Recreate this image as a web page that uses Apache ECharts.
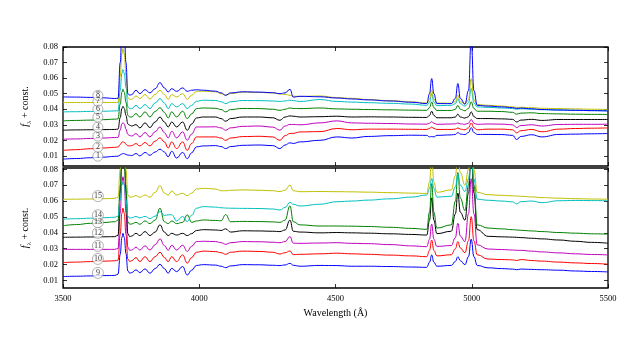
<!DOCTYPE html>
<html>
<head>
<meta charset="utf-8">
<script src="https://cdn.jsdelivr.net/npm/echarts@6/dist/echarts.min.js"></script>
<style>
  html, body { margin: 0; padding: 0; background: #fff; }
  #chart { width: 640px; height: 361px; }
</style>
</head>
<body>
<div id="chart"></div>
<script>
// wavelength grid (Angstrom)
var wave = [3500, 3550, 3600, 3650, 3690, 3702, 3710, 3716, 3720, 3725, 3731, 3738, 3745, 3752, 3768, 3782,
  3801, 3819, 3838, 3856, 3872, 3886, 3899, 3917, 3939, 3956, 3972, 3990, 4015, 4060, 4080, 4097, 4115, 4160,
  4220, 4270, 4296, 4315, 4333, 4345, 4370, 4443, 4505, 4560, 4620, 4700, 4780, 4835, 4845, 4853, 4861, 4872,
  4925, 4940, 4949, 4958, 4975, 4988, 4998, 5008, 5020, 5060, 5110, 5150, 5165, 5180, 5220, 5257, 5320, 5380,
  5440, 5500];

// top panel spectra 1-8
var s1 = [0.0079, 0.0083, 0.0088, 0.0092, 0.0097, 0.0098, 0.0106, 0.0113, 0.0115, 0.0114, 0.0109, 0.0105, 0.0104, 0.0102, 0.0115, 0.0100,
  0.0122, 0.0104, 0.0125, 0.0143, 0.0125, 0.0094, 0.0130, 0.0086, 0.0122, 0.0082, 0.0120, 0.0158, 0.0164, 0.0166, 0.0160, 0.0147, 0.0160, 0.0168,
  0.0170, 0.0166, 0.0147, 0.0170, 0.0184, 0.0180, 0.0190, 0.0200, 0.0222, 0.0215, 0.0225, 0.0230, 0.0233, 0.0232, 0.0222, 0.0225, 0.0222, 0.0232,
  0.0235, 0.0238, 0.0250, 0.0240, 0.0237, 0.0250, 0.0282, 0.0250, 0.0238, 0.0238, 0.0237, 0.0232, 0.0205, 0.0225, 0.0236, 0.0222, 0.0238, 0.0240,
  0.0242, 0.0244];
var s2 = [0.0135, 0.0140, 0.0146, 0.0151, 0.0155, 0.0157, 0.0173, 0.0187, 0.0190, 0.0187, 0.0175, 0.0165, 0.0164, 0.0166, 0.0179, 0.0164,
  0.0186, 0.0164, 0.0195, 0.0216, 0.0190, 0.0151, 0.0190, 0.0147, 0.0190, 0.0136, 0.0180, 0.0222, 0.0222, 0.0222, 0.0215, 0.0200, 0.0215, 0.0224,
  0.0226, 0.0222, 0.0200, 0.0230, 0.0244, 0.0245, 0.0254, 0.0256, 0.0276, 0.0268, 0.0272, 0.0272, 0.0271, 0.0270, 0.0276, 0.0285, 0.0276, 0.0270,
  0.0270, 0.0272, 0.0280, 0.0272, 0.0268, 0.0280, 0.0312, 0.0280, 0.0268, 0.0272, 0.0272, 0.0268, 0.0248, 0.0262, 0.0270, 0.0255, 0.0272, 0.0276,
  0.0278, 0.0280];
var s3 = [0.0207, 0.0209, 0.0212, 0.0215, 0.0218, 0.0219, 0.0266, 0.0305, 0.0314, 0.0305, 0.0272, 0.0238, 0.0230, 0.0228, 0.0243, 0.0222,
  0.0250, 0.0222, 0.0255, 0.0286, 0.0250, 0.0216, 0.0258, 0.0216, 0.0254, 0.0201, 0.0240, 0.0286, 0.0286, 0.0287, 0.0280, 0.0265, 0.0280, 0.0290,
  0.0292, 0.0285, 0.0265, 0.0292, 0.0302, 0.0302, 0.0300, 0.0312, 0.0325, 0.0312, 0.0310, 0.0308, 0.0305, 0.0304, 0.0310, 0.0320, 0.0310, 0.0303,
  0.0305, 0.0306, 0.0312, 0.0306, 0.0303, 0.0310, 0.0334, 0.0310, 0.0303, 0.0305, 0.0304, 0.0300, 0.0282, 0.0295, 0.0300, 0.0292, 0.0302, 0.0303,
  0.0303, 0.0304];
var s4 = [0.0265, 0.0267, 0.0268, 0.0269, 0.0270, 0.0272, 0.0346, 0.0404, 0.0419, 0.0404, 0.0360, 0.0305, 0.0297, 0.0292, 0.0301, 0.0280,
  0.0312, 0.0282, 0.0318, 0.0350, 0.0318, 0.0286, 0.0318, 0.0286, 0.0318, 0.0265, 0.0305, 0.0344, 0.0350, 0.0350, 0.0340, 0.0323, 0.0340, 0.0350,
  0.0350, 0.0345, 0.0329, 0.0350, 0.0357, 0.0355, 0.0350, 0.0352, 0.0355, 0.0350, 0.0351, 0.0350, 0.0348, 0.0347, 0.0360, 0.0387, 0.0360, 0.0345,
  0.0345, 0.0350, 0.0368, 0.0350, 0.0343, 0.0352, 0.0383, 0.0352, 0.0340, 0.0340, 0.0338, 0.0335, 0.0318, 0.0330, 0.0335, 0.0328, 0.0334, 0.0334,
  0.0334, 0.0334];
var s5 = [0.0325, 0.0328, 0.0330, 0.0333, 0.0336, 0.0338, 0.0433, 0.0509, 0.0528, 0.0509, 0.0445, 0.0360, 0.0350, 0.0350, 0.0372, 0.0350,
  0.0383, 0.0350, 0.0385, 0.0410, 0.0380, 0.0344, 0.0383, 0.0350, 0.0387, 0.0340, 0.0370, 0.0404, 0.0408, 0.0406, 0.0398, 0.0383, 0.0398, 0.0405,
  0.0404, 0.0400, 0.0393, 0.0400, 0.0408, 0.0405, 0.0404, 0.0408, 0.0402, 0.0400, 0.0398, 0.0396, 0.0394, 0.0393, 0.0410, 0.0447, 0.0410, 0.0392,
  0.0392, 0.0400, 0.0425, 0.0400, 0.0390, 0.0405, 0.0447, 0.0405, 0.0387, 0.0387, 0.0385, 0.0380, 0.0368, 0.0375, 0.0377, 0.0372, 0.0370, 0.0368,
  0.0367, 0.0366];
var s6 = [0.0383, 0.0384, 0.0386, 0.0387, 0.0389, 0.0390, 0.0522, 0.0630, 0.0655, 0.0630, 0.0540, 0.0415, 0.0404, 0.0404, 0.0425, 0.0404,
  0.0430, 0.0404, 0.0440, 0.0468, 0.0440, 0.0404, 0.0436, 0.0415, 0.0436, 0.0404, 0.0425, 0.0451, 0.0458, 0.0456, 0.0448, 0.0436, 0.0448, 0.0456,
  0.0455, 0.0453, 0.0450, 0.0453, 0.0458, 0.0455, 0.0450, 0.0462, 0.0450, 0.0446, 0.0442, 0.0438, 0.0433, 0.0425, 0.0445, 0.0500, 0.0445, 0.0423,
  0.0425, 0.0435, 0.0468, 0.0435, 0.0420, 0.0440, 0.0533, 0.0440, 0.0415, 0.0412, 0.0408, 0.0405, 0.0400, 0.0403, 0.0400, 0.0397, 0.0395, 0.0393,
  0.0391, 0.0390];
var s7 = [0.0443, 0.0443, 0.0443, 0.0443, 0.0443, 0.0444, 0.0612, 0.0755, 0.0790, 0.0755, 0.0620, 0.0475, 0.0462, 0.0464, 0.0485, 0.0468,
  0.0494, 0.0466, 0.0495, 0.0522, 0.0495, 0.0464, 0.0494, 0.0479, 0.0500, 0.0464, 0.0490, 0.0515, 0.0516, 0.0512, 0.0500, 0.0490, 0.0500, 0.0510,
  0.0508, 0.0505, 0.0498, 0.0495, 0.0490, 0.0484, 0.0482, 0.0485, 0.0475, 0.0470, 0.0462, 0.0455, 0.0447, 0.0440, 0.0465, 0.0522, 0.0465, 0.0440,
  0.0438, 0.0448, 0.0490, 0.0448, 0.0435, 0.0460, 0.0597, 0.0460, 0.0430, 0.0425, 0.0420, 0.0415, 0.0412, 0.0412, 0.0410, 0.0406, 0.0404, 0.0402,
  0.0400, 0.0398];
var s8 = [0.0479, 0.0478, 0.0476, 0.0473, 0.0469, 0.0470, 0.0700, 0.0900, 0.0950, 0.0900, 0.0700, 0.0500, 0.0490, 0.0494, 0.0522, 0.0500,
  0.0526, 0.0505, 0.0532, 0.0571, 0.0537, 0.0511, 0.0532, 0.0515, 0.0537, 0.0515, 0.0522, 0.0525, 0.0522, 0.0516, 0.0505, 0.0490, 0.0505, 0.0512,
  0.0510, 0.0506, 0.0500, 0.0505, 0.0528, 0.0478, 0.0483, 0.0480, 0.0472, 0.0466, 0.0460, 0.0453, 0.0445, 0.0436, 0.0500, 0.0597, 0.0500, 0.0436,
  0.0436, 0.0470, 0.0565, 0.0470, 0.0432, 0.0520, 0.0850, 0.0520, 0.0425, 0.0420, 0.0415, 0.0410, 0.0405, 0.0407, 0.0403, 0.0398, 0.0395, 0.0393,
  0.0391, 0.0389];

// bottom panel spectra 9-15
var s9 = [0.0125, 0.0127, 0.0129, 0.0131, 0.0132, 0.0140, 0.0265, 0.0370, 0.0397, 0.0370, 0.0270, 0.0160, 0.0146, 0.0150, 0.0167, 0.0150,
  0.0173, 0.0146, 0.0175, 0.0202, 0.0175, 0.0146, 0.0177, 0.0156, 0.0188, 0.0135, 0.0165, 0.0195, 0.0200, 0.0197, 0.0190, 0.0181, 0.0192, 0.0200,
  0.0199, 0.0196, 0.0194, 0.0198, 0.0208, 0.0196, 0.0190, 0.0195, 0.0194, 0.0190, 0.0190, 0.0188, 0.0185, 0.0183, 0.0215, 0.0261, 0.0215, 0.0190,
  0.0195, 0.0220, 0.0250, 0.0225, 0.0200, 0.0250, 0.0360, 0.0250, 0.0195, 0.0180, 0.0175, 0.0172, 0.0168, 0.0172, 0.0170, 0.0168, 0.0165, 0.0160,
  0.0157, 0.0154];
var s10 = [0.0213, 0.0216, 0.0219, 0.0222, 0.0224, 0.0228, 0.0390, 0.0522, 0.0555, 0.0522, 0.0390, 0.0235, 0.0219, 0.0225, 0.0244, 0.0219,
  0.0250, 0.0219, 0.0250, 0.0278, 0.0245, 0.0219, 0.0250, 0.0219, 0.0261, 0.0209, 0.0245, 0.0278, 0.0285, 0.0282, 0.0275, 0.0265, 0.0278, 0.0285,
  0.0283, 0.0278, 0.0267, 0.0275, 0.0286, 0.0263, 0.0265, 0.0268, 0.0272, 0.0268, 0.0265, 0.0260, 0.0255, 0.0250, 0.0290, 0.0355, 0.0290, 0.0255,
  0.0262, 0.0300, 0.0345, 0.0305, 0.0275, 0.0350, 0.0502, 0.0350, 0.0262, 0.0235, 0.0232, 0.0230, 0.0226, 0.0232, 0.0226, 0.0222, 0.0216, 0.0211,
  0.0207, 0.0203];
var s11 = [0.0296, 0.0296, 0.0296, 0.0296, 0.0296, 0.0302, 0.0525, 0.0708, 0.0753, 0.0708, 0.0525, 0.0310, 0.0290, 0.0292, 0.0310, 0.0292,
  0.0318, 0.0292, 0.0325, 0.0362, 0.0320, 0.0290, 0.0322, 0.0292, 0.0322, 0.0283, 0.0315, 0.0345, 0.0347, 0.0345, 0.0338, 0.0328, 0.0338, 0.0345,
  0.0344, 0.0341, 0.0338, 0.0345, 0.0376, 0.0335, 0.0334, 0.0336, 0.0338, 0.0334, 0.0332, 0.0326, 0.0318, 0.0313, 0.0360, 0.0455, 0.0360, 0.0315,
  0.0320, 0.0370, 0.0460, 0.0380, 0.0345, 0.0520, 0.0740, 0.0520, 0.0325, 0.0298, 0.0295, 0.0292, 0.0290, 0.0290, 0.0285, 0.0280, 0.0274, 0.0268,
  0.0264, 0.0261];
var s12 = [0.0372, 0.0373, 0.0374, 0.0375, 0.0376, 0.0385, 0.0650, 0.0880, 0.0950, 0.0880, 0.0650, 0.0395, 0.0376, 0.0380, 0.0397, 0.0383,
  0.0408, 0.0383, 0.0405, 0.0450, 0.0405, 0.0383, 0.0397, 0.0386, 0.0397, 0.0383, 0.0395, 0.0415, 0.0420, 0.0418, 0.0415, 0.0425, 0.0405, 0.0413,
  0.0412, 0.0410, 0.0408, 0.0418, 0.0480, 0.0410, 0.0405, 0.0400, 0.0402, 0.0400, 0.0398, 0.0394, 0.0390, 0.0386, 0.0480, 0.0620, 0.0480, 0.0395,
  0.0410, 0.0520, 0.0650, 0.0530, 0.0480, 0.0650, 0.0900, 0.0650, 0.0420, 0.0378, 0.0375, 0.0373, 0.0372, 0.0370, 0.0366, 0.0362, 0.0355, 0.0347,
  0.0340, 0.0335];
var s13 = [0.0445, 0.0452, 0.0460, 0.0465, 0.0470, 0.0480, 0.0700, 0.0850, 0.0900, 0.0850, 0.0700, 0.0470, 0.0454, 0.0456, 0.0466, 0.0454,
  0.0475, 0.0458, 0.0480, 0.0555, 0.0470, 0.0458, 0.0475, 0.0458, 0.0466, 0.0513, 0.0466, 0.0475, 0.0481, 0.0478, 0.0476, 0.0515, 0.0470, 0.0472,
  0.0471, 0.0469, 0.0466, 0.0480, 0.0570, 0.0470, 0.0450, 0.0443, 0.0443, 0.0442, 0.0440, 0.0435, 0.0428, 0.0422, 0.0530, 0.0710, 0.0530, 0.0430,
  0.0450, 0.0600, 0.0780, 0.0620, 0.0540, 0.0700, 0.0950, 0.0700, 0.0450, 0.0430, 0.0425, 0.0420, 0.0418, 0.0416, 0.0412, 0.0408, 0.0402, 0.0398,
  0.0394, 0.0392];
var s14 = [0.0486, 0.0489, 0.0492, 0.0495, 0.0498, 0.0505, 0.0610, 0.0700, 0.0720, 0.0700, 0.0610, 0.0505, 0.0492, 0.0495, 0.0503, 0.0495,
  0.0503, 0.0490, 0.0505, 0.0534, 0.0510, 0.0513, 0.0514, 0.0475, 0.0503, 0.0471, 0.0510, 0.0555, 0.0565, 0.0562, 0.0558, 0.0556, 0.0555, 0.0554,
  0.0553, 0.0550, 0.0544, 0.0560, 0.0592, 0.0580, 0.0569, 0.0580, 0.0596, 0.0600, 0.0606, 0.0614, 0.0625, 0.0638, 0.0680, 0.0743, 0.0680, 0.0625,
  0.0630, 0.0690, 0.0770, 0.0700, 0.0660, 0.0740, 0.0900, 0.0740, 0.0612, 0.0605, 0.0600, 0.0595, 0.0582, 0.0596, 0.0600, 0.0590, 0.0602, 0.0604,
  0.0603, 0.0602];
var s15 = [0.0611, 0.0612, 0.0613, 0.0615, 0.0617, 0.0625, 0.0800, 0.0950, 0.1000, 0.0950, 0.0800, 0.0640, 0.0624, 0.0626, 0.0634, 0.0624,
  0.0638, 0.0624, 0.0655, 0.0697, 0.0650, 0.0638, 0.0663, 0.0638, 0.0649, 0.0634, 0.0650, 0.0676, 0.0680, 0.0676, 0.0665, 0.0665, 0.0668, 0.0670,
  0.0668, 0.0665, 0.0660, 0.0668, 0.0701, 0.0665, 0.0659, 0.0660, 0.0659, 0.0658, 0.0656, 0.0653, 0.0650, 0.0648, 0.0720, 0.0880, 0.0720, 0.0655,
  0.0670, 0.0760, 0.0900, 0.0780, 0.0700, 0.0800, 0.0950, 0.0800, 0.0655, 0.0640, 0.0636, 0.0633, 0.0632, 0.0630, 0.0626, 0.0622, 0.0618, 0.0615,
  0.0613, 0.0611];

// circled spectrum numbers (drawn at a fixed wavelength)
var labelWave = 3628;
var topNums = ['1', '2', '3', '4', '5', '6', '7', '8'];
var topLabelY = [0.0098, 0.0156, 0.0227, 0.0284, 0.0349, 0.0400, 0.0451, 0.0489];
var botNums = ['9', '10', '11', '12', '13', '14', '15'];
var botLabelY = [0.0148, 0.0236, 0.0318, 0.0400, 0.0467, 0.0511, 0.0631];

var yTicks = [0.01, 0.02, 0.03, 0.04, 0.05, 0.06, 0.07, 0.08];
var colors = ['#0000ff', '#ff0000', '#bf00bf', '#000000', '#008000', '#00bfbf', '#bfbf00'];

var topSpectra = [s1, s2, s3, s4, s5, s6, s7, s8];
var botSpectra = [s9, s10, s11, s12, s13, s14, s15];

var serif = 'Liberation Serif';

function pairs(vals) {
  return wave.map(function (w, i) { return [w, vals[i]]; });
}

function lineSeries(vals, idx, panel) {
  return {
    type: 'line',
    xAxisIndex: panel === 0 ? 0 : 2,
    yAxisIndex: panel === 0 ? 0 : 2,
    data: pairs(vals),
    symbol: 'none',
    smooth: 0.45,
    smoothMonotone: 'x',
    clip: true,
    lineStyle: {width: 1, color: colors[idx % colors.length]},
    silent: true,
    animation: false
  };
}

function circleSeries(nums, ys, panel) {
  return {
    type: 'scatter',
    xAxisIndex: panel === 0 ? 0 : 2,
    yAxisIndex: panel === 0 ? 0 : 2,
    data: nums.map(function (n, i) { return {name: n, value: [labelWave, ys[i]]}; }),
    symbol: 'circle',
    symbolSize: panel === 0 ? 10 : 11,
    itemStyle: {color: '#fff', borderColor: '#888', borderWidth: 0.8},
    label: {
      show: true, position: 'inside', formatter: '{b}',
      color: '#000', fontSize: 8, fontFamily: serif
    },
    z: 10,
    animation: false
  };
}

function xAx(grid, pos, showLabel) {
  return {
    type: 'value', gridIndex: grid, position: pos, min: 3500, max: 5500, interval: 500,
    axisLine: {show: false},
    axisTick: {show: true, inside: true, length: 4, lineStyle: {color: '#000', width: 0.8}},
    axisLabel: {
      show: showLabel, color: '#000', fontSize: 8.5, fontFamily: serif, margin: 6,
      formatter: function (v) { return String(v); }
    },
    splitLine: {show: false},
    name: showLabel ? 'Wavelength (Å)' : '',
    nameLocation: 'middle', nameGap: 20,
    nameTextStyle: {color: '#000', fontSize: 10, fontFamily: serif}
  };
}

function yAx(grid, pos, min, max, showLabel) {
  return {
    type: 'value', gridIndex: grid, position: pos, min: min, max: max,
    axisLine: {show: false},
    axisTick: {show: true, inside: true, length: 4, customValues: yTicks, lineStyle: {color: '#000', width: 0.8}},
    axisLabel: {
      show: showLabel, customValues: yTicks, color: '#000', fontSize: 8.5, fontFamily: serif, margin: 5,
      formatter: function (v) { return v.toFixed(2); }
    },
    splitLine: {show: false},
    name: showLabel ? '{i|f}{s|λ} + const.' : '',
    nameLocation: 'middle', nameRotate: 90, nameGap: 28,
    nameTextStyle: {
      color: '#000', fontSize: 10, fontFamily: serif,
      rich: {
        i: {fontStyle: 'italic', fontSize: 10, fontFamily: serif, color: '#000'},
        s: {fontSize: 7, fontFamily: serif, color: '#000', verticalAlign: 'bottom', padding: [6, 0, 0, 0]}
      }
    }
  };
}

var series = [];
topSpectra.forEach(function (s, i) { series.push(lineSeries(s, i, 0)); });
botSpectra.forEach(function (s, i) { series.push(lineSeries(s, i, 1)); });
series.push(circleSeries(topNums, topLabelY, 0));
series.push(circleSeries(botNums, botLabelY, 1));

var option = {
  backgroundColor: '#fff',
  animation: false,
  grid: [
    {left: 63, top: 47, width: 545, height: 119, show: true, borderColor: '#000', borderWidth: 1.3, backgroundColor: 'transparent'},
    {left: 63, top: 168, width: 545, height: 120, show: true, borderColor: '#000', borderWidth: 1.3, backgroundColor: 'transparent'}
  ],
  xAxis: [
    xAx(0, 'bottom', false),
    xAx(0, 'top', false),
    xAx(1, 'bottom', true),
    xAx(1, 'top', false)
  ],
  yAxis: [
    yAx(0, 'left', 0.0035, 0.08, true),
    yAx(0, 'right', 0.0035, 0.08, false),
    yAx(1, 'left', 0.0053, 0.0808, true),
    yAx(1, 'right', 0.0053, 0.0808, false)
  ],
  series: series
};

var chart = echarts.init(document.getElementById('chart'), null, {renderer: 'canvas'});
chart.setOption(option);
</script>
</body>
</html>
